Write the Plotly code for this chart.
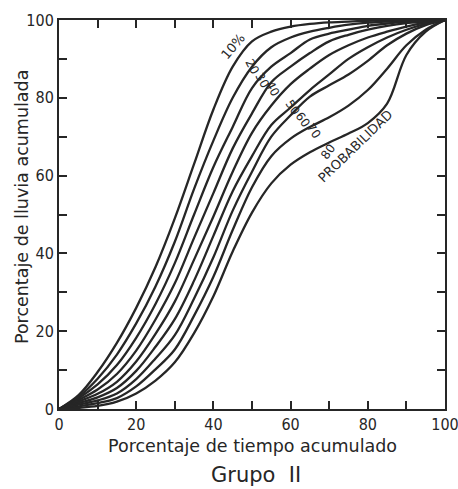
import plotly.graph_objects as go

# Cumulative storm time (%) at which each curve is sampled
tiempo = [0, 5, 10, 15, 20, 25, 30, 35, 40, 45, 50,
          55, 60, 65, 70, 75, 80, 85, 90, 95, 100]

# Cumulative rainfall (%) for each probability level
lluvia_10 = [0, 3.5, 9.5, 17, 26, 36.5, 49, 63, 77, 88, 94.5,
             97, 98.3, 99, 99.4, 99.6, 99.8, 99.9, 100, 100, 100]
lluvia_20 = [0, 3.1, 7.8, 14, 22, 31.5, 43, 56.6, 69, 80, 88,
             93, 95.5, 97, 98, 98.8, 99.3, 99.6, 99.8, 99.9, 100]
lluvia_30 = [0, 2.7, 6.3, 11.3, 18.3, 27, 37.5, 50, 62.2, 72.5, 82.5,
             88, 91.5, 95, 96.5, 97.5, 98.5, 99.1, 99.5, 99.8, 100]
lluvia_40 = [0, 2.3, 5.0, 9, 15, 23, 32.3, 44, 55.5, 67, 76,
             84, 88, 91.5, 94.5, 96.2, 97.5, 98.5, 99.2, 99.6, 100]
lluvia_50 = [0, 1.9, 3.9, 7, 12.2, 19.3, 27.6, 38.4, 49.5, 61, 71,
             78, 83.5, 87.5, 91, 93.5, 95.5, 97, 98.3, 99.3, 100]
lluvia_60 = [0, 1.5, 3.0, 5.4, 9.8, 16, 23.1, 33, 44.5, 56, 65,
             73, 77.5, 82, 86, 90, 93, 95.5, 97.5, 99, 100]
lluvia_70 = [0, 1.1, 2.2, 4, 7.7, 13, 19, 28.4, 39, 51, 61,
             70, 75.5, 80.3, 83.2, 86, 89.5, 93.5, 96.5, 98.7, 100]
lluvia_80 = [0, 0.7, 1.5, 2.8, 5.8, 10.2, 15.3, 24, 34, 46, 57,
             65, 69.5, 72.5, 75, 78, 82, 87.5, 93.5, 97.5, 100]
lluvia_90 = [0, 0.3, 0.8, 1.9, 4.0, 7.3, 12, 19.5, 29, 40.5, 50.5,
             58, 62.8, 66, 68.5, 70.8, 73.5, 78.5, 91, 97, 100]

series = [lluvia_10, lluvia_20, lluvia_30, lluvia_40, lluvia_50,
          lluvia_60, lluvia_70, lluvia_80, lluvia_90]

eje_ticks = [0, 20, 40, 60, 80, 100]

INK = "#262626"
NUM_FONT = "DejaVu Sans Condensed, DejaVu Sans, sans-serif"
TXT_FONT = "DejaVu Sans, sans-serif"

fig = go.Figure()
for ys in series:
    fig.add_trace(go.Scatter(
        x=tiempo, y=ys, mode="lines",
        line=dict(color=INK, width=2.3, shape="spline", smoothing=1.0),
        showlegend=False, hoverinfo="skip",
    ))

axis_common = dict(
    range=[0, 100], tickvals=eje_ticks, ticktext=[str(v) for v in eje_ticks],
    ticks="inside", ticklen=8, tickwidth=2, tickcolor=INK,
    minor=dict(dtick=10, ticks="inside", ticklen=8, tickwidth=2, tickcolor=INK),
    showline=True, linecolor=INK, linewidth=2, mirror="ticks",
    showgrid=False, zeroline=False, ticklabeloverflow="allow", automargin=False,
    tickfont=dict(family=NUM_FONT, size=16, color=INK),
)

fig.update_layout(
    width=458, height=489,
    margin=dict(l=59, r=13, t=20, b=80),
    paper_bgcolor="white", plot_bgcolor="white",
    xaxis=dict(axis_common),
    yaxis=dict(axis_common),
)

# Axis titles and figure caption
fig.add_annotation(text="Porcentaje de tiempo acumulado", xref="paper", yref="paper",
                   x=0.5, y=-0.095, showarrow=False, xanchor="center", yanchor="middle",
                   font=dict(family=TXT_FONT, size=17.5, color=INK))
fig.add_annotation(text="Porcentaje de lluvia acumulada", xref="paper", yref="paper",
                   x=-0.096, y=0.519, showarrow=False, textangle=-90,
                   xanchor="center", yanchor="middle",
                   font=dict(family=TXT_FONT, size=17.5, color=INK))
fig.add_annotation(text="Grupo  II", xref="paper", yref="paper",
                   x=0.51, y=-0.17, showarrow=False, xanchor="center", yanchor="middle",
                   font=dict(family=TXT_FONT, size=21, color=INK))

# Probability labels along the curves
curve_labels = [
    ("10%", 45.1, 93.1, -50, 13),
    ("20", 50.0, 88.2, 62, 12),
    ("30", 52.6, 84.6, 62, 12),
    ("40", 55.4, 82.3, 62, 12),
    ("50", 60.4, 77.6, 55, 12),
    ("60", 63.2, 74.3, 55, 12),
    ("70", 66.0, 71.5, 55, 12),
    ("80", 69.7, 66.0, -55, 12),
    ("PROBABILIDAD", 76.7, 67.4, -44, 13),
]
for txt, lx, ly, ang, fs in curve_labels:
    fig.add_annotation(text=txt, x=lx, y=ly, xref="x", yref="y", showarrow=False,
                       textangle=ang, xanchor="center", yanchor="middle",
                       font=dict(family=TXT_FONT, size=fs, color=INK))

fig.write_html("out.html")
